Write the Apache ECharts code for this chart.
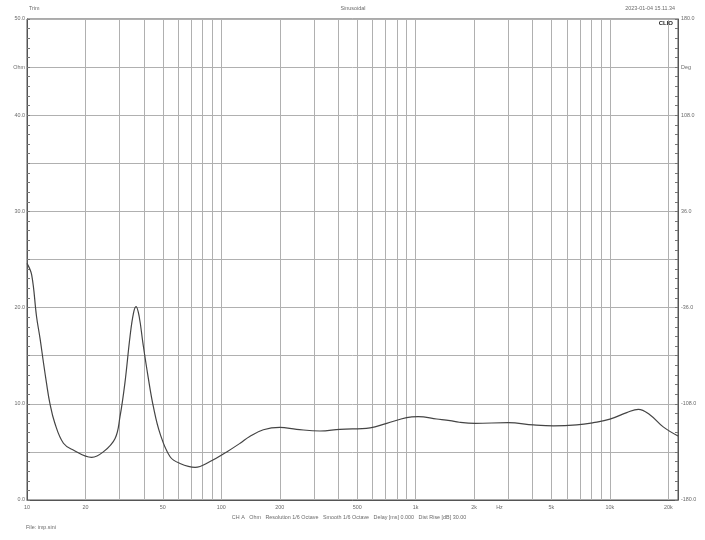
<!DOCTYPE html>
<html>
<head>
<meta charset="utf-8">
<script src="https://cdn.jsdelivr.net/npm/echarts@6/dist/echarts.min.js"></script>
<style>
html,body{margin:0;padding:0;background:#fff;}
#chart{width:705px;height:540px;}
</style>
</head>
<body>
<div id="chart"></div>
<script>
// Impedance curve [frequency Hz, Ohm]
const freqHz = [10, 10.57, 11.2, 11.67, 12.1, 12.6, 13.1, 13.9, 15.4, 17.3, 21.5, 24.7, 28.4, 30.1, 31.9, 33.9, 35.3, 36.4, 37.8, 39.5, 42.0, 44.7, 48.4, 54.5, 61.3, 73.3, 87.5, 106.6, 125, 140, 164.6, 200, 244, 322, 408, 583, 710, 899, 1032, 1283, 1503, 1678, 2023, 3000, 4036, 5117, 6745, 8220, 10000, 12200, 14000, 16100, 18800, 22400];
const impedanceOhm = [24.6, 23.4, 19.05, 16.8, 14.55, 12.15, 10.1, 8.0, 5.9, 5.2, 4.44, 5.0, 6.4, 8.66, 12.15, 17.0, 19.4, 20.1, 19.05, 16.3, 12.8, 9.7, 6.9, 4.5, 3.8, 3.4, 4.0, 5.0, 5.9, 6.6, 7.3, 7.55, 7.35, 7.17, 7.35, 7.5, 7.97, 8.56, 8.66, 8.42, 8.25, 8.08, 7.97, 8.04, 7.8, 7.7, 7.8, 8.04, 8.4, 9.08, 9.43, 8.84, 7.6, 6.65];

// Axes
const xMin = 10, xMax = 22400;
const xGridValues = [20,30,40,50,60,70,80,90,100,200,300,400,500,600,700,800,900,1000,2000,3000,4000,5000,6000,7000,8000,9000,10000,20000];
const xTickValues = [10, 20, 50, 100, 200, 500, 1000, 2000, 2700, 5000, 10000, 20000];
const xTickLabels = ['10', '20', '50', '100', '200', '500', '1k', '2k', 'Hz', '5k', '10k', '20k'];
const leftTickValues = [0, 10, 20, 30, 40, 45, 50];
const leftTickLabels = ['0.0', '10.0', '20.0', '30.0', '40.0', 'Ohm', '50.0'];
const rightTickValues = [-180, -108, -36, 36, 108, 144, 180];
const rightTickLabels = ['-180.0', '-108.0', '-36.0', '36.0', '108.0', 'Deg', '180.0'];

const headerLeft = 'Trim';
const headerCenter = 'Sinusoidal';
const headerRight = '2023-01-04 15.11.34';
const brand = 'CLIO';
const footerInfo = 'CH A   Ohm   Resolution 1/6 Octave   Smooth 1/6 Octave   Delay [ms] 0.000   Dist Rise [dB] 30.00';
const fileInfo = 'File: imp.sini';

const FONT = 'Liberation Sans, Arial, sans-serif';
const TXT = '#6a6a6a';
const GRID = '#b0b0b0';
const AXIS = '#555';
const FS = 5.4;

const chart = echarts.init(document.getElementById('chart'), null, {renderer: 'canvas'});

function mapLabel(vals, labels) {
  return function (v) {
    for (let i = 0; i < vals.length; i++) if (Math.abs(vals[i] - v) < 1e-6) return labels[i];
    return '';
  };
}

chart.setOption({
  animation: false,
  backgroundColor: '#ffffff',
  grid: {left: 27, right: 27, top: 19, bottom: 40, show: true, borderColor: AXIS, borderWidth: 1, backgroundColor: 'transparent'},
  xAxis: {
    type: 'log', logBase: 10, min: xMin, max: xMax,
    axisLine: {show: true, lineStyle: {color: AXIS}},
    axisTick: {show: false},
    axisLabel: {
      show: true, customValues: xTickValues,
      formatter: mapLabel(xTickValues, xTickLabels),
      color: TXT, fontSize: FS, fontFamily: FONT, margin: 5,
      showMinLabel: true, showMaxLabel: true, hideOverlap: false
    },
    splitLine: {show: false}
  },
  yAxis: [{
    type: 'value', min: 0, max: 50, interval: 5, position: 'left',
    axisLine: {show: true, lineStyle: {color: AXIS}},
    axisTick: {show: true, inside: true, length: 3, lineStyle: {color: '#777'}},
    minorTick: {show: true, splitNumber: 5, length: 3, lineStyle: {color: '#777'}},
    splitLine: {show: true, lineStyle: {color: GRID, width: 1}},
    axisLabel: {formatter: mapLabel(leftTickValues, leftTickLabels), color: TXT, fontSize: FS, fontFamily: FONT, margin: 2, showMinLabel: true, showMaxLabel: true}
  }, {
    type: 'value', min: -180, max: 180, interval: 36, position: 'right',
    axisLine: {show: true, lineStyle: {color: AXIS}},
    axisTick: {show: true, inside: true, length: 3, lineStyle: {color: '#777'}},
    minorTick: {show: true, splitNumber: 5, length: 3, lineStyle: {color: '#777'}},
    splitLine: {show: false},
    axisLabel: {formatter: mapLabel(rightTickValues, rightTickLabels), color: TXT, fontSize: FS, fontFamily: FONT, margin: 3, showMinLabel: true, showMaxLabel: true}
  }],
  series: [{
    type: 'line',
    yAxisIndex: 0,
    data: freqHz.map((f, i) => [f, impedanceOhm[i]]),
    showSymbol: false,
    smooth: 0.4,
    lineStyle: {color: '#444', width: 1.2},
    z: 5,
    markLine: {
      silent: true, symbol: ['none', 'none'], animation: false,
      lineStyle: {color: GRID, width: 1, type: 'solid'},
      label: {show: false},
      data: xGridValues.map(v => ({xAxis: v}))
    }
  }],
  graphic: [
    {type: 'text', left: 29, top: 6, style: {text: headerLeft, fill: TXT, font: FS + 'px ' + FONT}},
    {type: 'text', x: 353, y: 6, style: {text: headerCenter, fill: TXT, font: FS + 'px ' + FONT, textAlign: 'center'}},
    {type: 'text', x: 675, y: 6, style: {text: headerRight, fill: TXT, font: FS + 'px ' + FONT, textAlign: 'right'}},
    {type: 'text', x: 673, y: 20, z: 10, style: {text: brand, fill: '#222', font: 'bold 6px ' + FONT, textAlign: 'right'}},
    {type: 'text', x: 349, y: 515, style: {text: footerInfo, fill: TXT, font: FS + 'px ' + FONT, textAlign: 'center'}},
    {type: 'text', x: 26, y: 525, style: {text: fileInfo, fill: TXT, font: FS + 'px ' + FONT}}
  ]
});
</script>
</body>
</html>
